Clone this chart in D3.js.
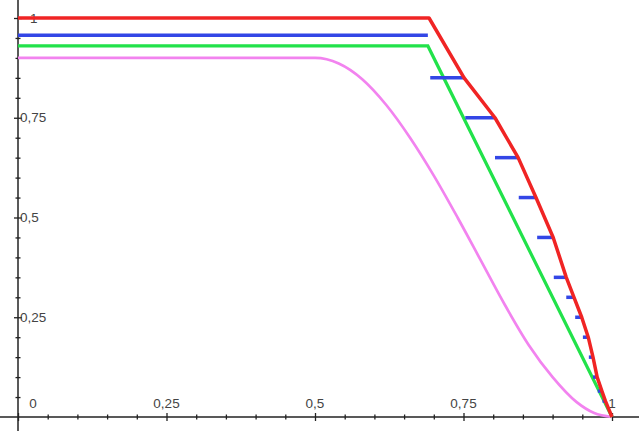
<!DOCTYPE html>
<html>
<head>
<meta charset="utf-8">
<script src="https://cdn.jsdelivr.net/npm/d3@7"></script>
<style>
  html, body { margin: 0; padding: 0; background: #fff; }
  svg { display: block; }
  .lbl { font-family: "Liberation Sans", Arial, sans-serif; font-size: 13.5px; fill: #444; }
</style>
</head>
<body>
<svg id="graphe" width="639" height="431"></svg>
<script>
// valeurs
const xTicks = [0, 0.25, 0.5, 0.75, 1];
const yTicks = [0.25, 0.5, 0.75, 1];

// courbe rouge (ligne brisée)
const rougeX = [0, 0.692, 0.751, 0.803, 0.842, 0.872, 0.901, 0.923, 0.936, 0.949, 0.960, 0.968, 0.975, 0.983, 0.989, 1];
const rougeY = [1, 1, 0.85, 0.75, 0.65, 0.55, 0.45, 0.35, 0.30, 0.25, 0.20, 0.15, 0.10, 0.065, 0.04, 0];

// palier bleu + petits traits bleus
const bleuX = [0, 0.690];
const bleuY = [0.957, 0.957];
const tiretsDebut = [0.694, 0.753, 0.803, 0.843, 0.874, 0.902, 0.923, 0.938, 0.951, 0.961, 0.968, 0.976, 0.984];
const tiretsFin   = [0.751, 0.803, 0.842, 0.872, 0.901, 0.923, 0.936, 0.949, 0.960, 0.968, 0.975, 0.983, 0.989];
const tiretsY     = [0.85, 0.75, 0.65, 0.55, 0.45, 0.35, 0.30, 0.25, 0.20, 0.15, 0.10, 0.065, 0.04];

// droite verte
const vertX = [0, 0.690, 1];
const vertY = [0.93, 0.93, 0];

// courbe rose
const roseX = [0, 0.50, 0.54, 0.58, 0.62, 0.66, 0.70, 0.74, 0.78, 0.82, 0.86, 0.90, 0.94, 0.97, 1];
const roseY = [0.90, 0.90, 0.886, 0.846, 0.782, 0.70, 0.605, 0.50, 0.39, 0.28, 0.18, 0.10, 0.038, 0.01, 0];

const svg = d3.select("#graphe");
const x = d3.scaleLinear().domain([0, 1]).range([18, 612]);
const y = d3.scaleLinear().domain([0, 1]).range([417, 18]);

const fmt = v => String(v).replace(".", ",");
const majeur = (liste, d) => liste.some(t => Math.abs(t - d) < 1e-6);

// axes
const axeX = svg.append("g").attr("transform", `translate(0,${y(0)})`)
    .call(d3.axisBottom(x).tickValues(d3.range(0, 1.0001, 0.05)).tickSize(2.5).tickFormat(""));
axeX.select(".domain").remove();
axeX.selectAll(".tick line")
    .attr("y1", d => majeur(xTicks, d) ? -4 : -2.5)
    .attr("y2", d => majeur(xTicks, d) ? 4 : 2.5)
    .attr("stroke", "#222").attr("stroke-width", 1.3);

const axeY = svg.append("g").attr("transform", `translate(${x(0)},0)`)
    .call(d3.axisLeft(y).tickValues(d3.range(0.05, 1.0001, 0.05)).tickSize(2.5).tickFormat(""));
axeY.select(".domain").remove();
axeY.selectAll(".tick line")
    .attr("x1", d => majeur(yTicks, d) ? 4 : 2.5)
    .attr("x2", d => majeur(yTicks, d) ? -4 : -2.5)
    .attr("stroke", "#222").attr("stroke-width", 1.3);

svg.append("line").attr("x1", 0).attr("x2", 639).attr("y1", y(0)).attr("y2", y(0))
    .attr("stroke", "#222").attr("stroke-width", 1.5);
svg.append("line").attr("x1", x(0)).attr("x2", x(0)).attr("y1", 0).attr("y2", 431)
    .attr("stroke", "#222").attr("stroke-width", 1.5);

// étiquettes
svg.selectAll(".lblx").data(xTicks).join("text")
    .attr("class", "lbl lblx")
    .attr("x", d => d === 0 ? x(d) + 15 : x(d))
    .attr("y", y(0) - 9)
    .attr("text-anchor", "middle")
    .text(fmt);

svg.selectAll(".lbly").data(yTicks).join("text")
    .attr("class", "lbl lbly")
    .attr("x", d => d === 1 ? x(0) + 12 : x(0) + 2)
    .attr("y", d => y(d))
    .attr("dy", "0.35em")
    .text(fmt);

const ligne = d3.line().x(d => x(d[0])).y(d => y(d[1]));

// rose
svg.append("path")
    .datum(d3.zip(roseX, roseY))
    .attr("d", ligne.curve(d3.curveMonotoneX))
    .attr("fill", "none").attr("stroke", "#f283ef").attr("stroke-width", 2.7);

ligne.curve(d3.curveLinear);

// vert
svg.append("path")
    .datum(d3.zip(vertX, vertY))
    .attr("d", ligne)
    .attr("fill", "none").attr("stroke", "#22e24a").attr("stroke-width", 3.2);

// bleu
svg.append("path")
    .datum(d3.zip(bleuX, bleuY))
    .attr("d", ligne)
    .attr("fill", "none").attr("stroke", "#3346e6").attr("stroke-width", 3.5);

svg.selectAll(".tiret").data(tiretsY).join("line")
    .attr("class", "tiret")
    .attr("x1", (d, i) => x(tiretsDebut[i]))
    .attr("x2", (d, i) => x(tiretsFin[i]))
    .attr("y1", d => y(d))
    .attr("y2", d => y(d))
    .attr("stroke", "#3346e6").attr("stroke-width", 3.5);

// rouge
svg.append("path")
    .datum(d3.zip(rougeX, rougeY))
    .attr("d", ligne)
    .attr("fill", "none").attr("stroke", "#f02424").attr("stroke-width", 3.5)
    .attr("stroke-linejoin", "round");
</script>
</body>
</html>
